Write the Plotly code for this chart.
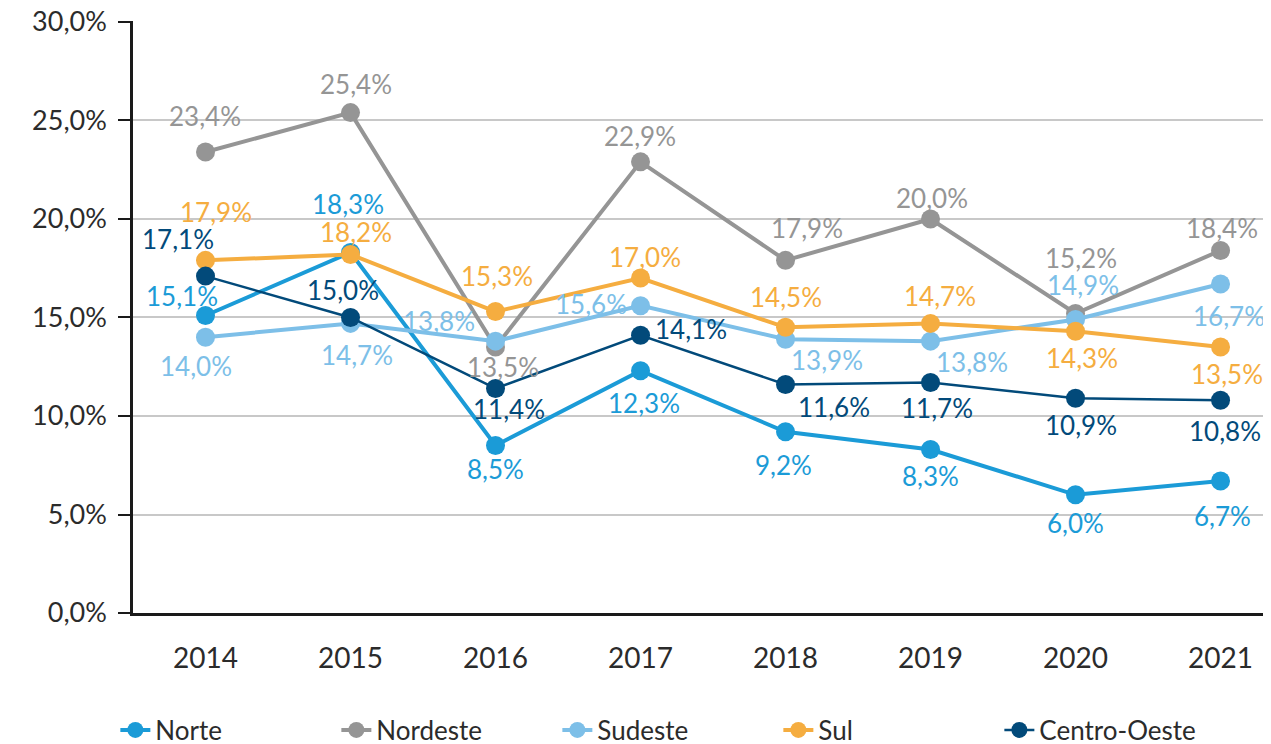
import plotly.graph_objects as go

years = [2014, 2015, 2016, 2017, 2018, 2019, 2020, 2021]
year_labels = ["2014", "2015", "2016", "2017", "2018", "2019", "2020", "2021"]
series_names = ["Norte", "Nordeste", "Sudeste", "Sul", "Centro-Oeste"]
norte = [15.1, 18.3, 8.5, 12.3, 9.2, 8.3, 6.0, 6.7]
nordeste = [23.4, 25.4, 13.5, 22.9, 17.9, 20.0, 15.2, 18.4]
sudeste = [14.0, 14.7, 13.8, 15.6, 13.9, 13.8, 14.9, 16.7]
sul = [17.9, 18.2, 15.3, 17.0, 14.5, 14.7, 14.3, 13.5]
centro_oeste = [17.1, 15.0, 11.4, 14.1, 11.6, 11.7, 10.9, 10.8]
y_ticks = [0, 5, 10, 15, 20, 25, 30]


def fmt(v):
    return f"{v:.1f}".replace(".", ",") + "%"


values = [norte, nordeste, sudeste, sul, centro_oeste]
colors = ["#1b9bd7", "#959595", "#7dbfe8", "#f5ad40", "#024a7a"]
widths = [4, 4, 4, 4, 2.5]

# label offsets in pixels (dx right, dy up)
offsets = [
    [(-24, 20), (-3, 48), (0, -23), (3, -32), (-2, -33), (0, -27), (0, -28), (2, -35)],
    [(-1, 36), (5, 29), (7, -20), (-1, 26), (21, 32), (1, 21), (5, 56), (1, 23)],
    [(-10, -29), (6, -32), (-57, 20), (-50, 2), (41, -21), (41, -21), (7, 34), (8, -32)],
    [(10, 48), (5, 22), (1, 36), (4, 21), (0, 30), (9, 27), (6, -27), (6, -27)],
    [(-28, 37), (-8, 27), (13, -21), (50, 6), (48, -23), (6, -25), (5, -27), (4, -31)],
]

font_family = "Lato"

fig = go.Figure()
for name, vals, col, w in zip(series_names, values, colors, widths):
    fig.add_trace(go.Scatter(
        x=years, y=vals, name=name, mode="lines+markers",
        line=dict(color=col, width=w),
        marker=dict(color=col, size=19),
        cliponaxis=False,
    ))

for vals, col, offs in zip(values, colors, offsets):
    for yr, v, (dx, dy) in zip(years, vals, offs):
        fig.add_annotation(
            x=yr, y=v, xref="x", yref="y",
            text=fmt(v),
            showarrow=False, xshift=dx, yshift=dy,
            font=dict(family=font_family, size=26, color=col),
        )

# page body has an 8px margin, so the figure is 8px smaller than the window
fig.update_layout(
    width=1263, height=736,
    margin=dict(l=125, r=0, t=13, b=131, autoexpand=False),
    paper_bgcolor="white", plot_bgcolor="white",
    font=dict(family=font_family, color="#333333"),
    showlegend=True,
    legend=dict(
        orientation="h", x=0.47, xanchor="center", y=-0.158, yanchor="top",
        font=dict(family=font_family, size=26, color="#2b2b2b"),
        traceorder="normal", entrywidth=176, entrywidthmode="pixels",
    ),
    xaxis=dict(
        type="linear", range=[2013.5, 2021.348],
        tickmode="array", tickvals=years, ticktext=year_labels,
        showline=True, linecolor="#1a1a1a", linewidth=2.5,
        showgrid=False, ticks="", zeroline=False,
        tickfont=dict(family=font_family, size=28, color="#2b2b2b"),
        ticklabelstandoff=19,
    ),
    yaxis=dict(
        range=[0, 30.05], tickmode="array", tickvals=y_ticks,
        ticktext=[fmt(t) for t in y_ticks],
        showline=True, linecolor="#1a1a1a", linewidth=2.5,
        ticks="outside", ticklen=12, tickwidth=2, tickcolor="#1a1a1a",
        showgrid=True, gridcolor="#c8c8c8", gridwidth=2,
        zeroline=False, ticklabeloverflow="allow",
        tickfont=dict(family=font_family, size=27, color="#2b2b2b"),
        ticklabelstandoff=6,
    ),
)

fig.write_html("out.html")
